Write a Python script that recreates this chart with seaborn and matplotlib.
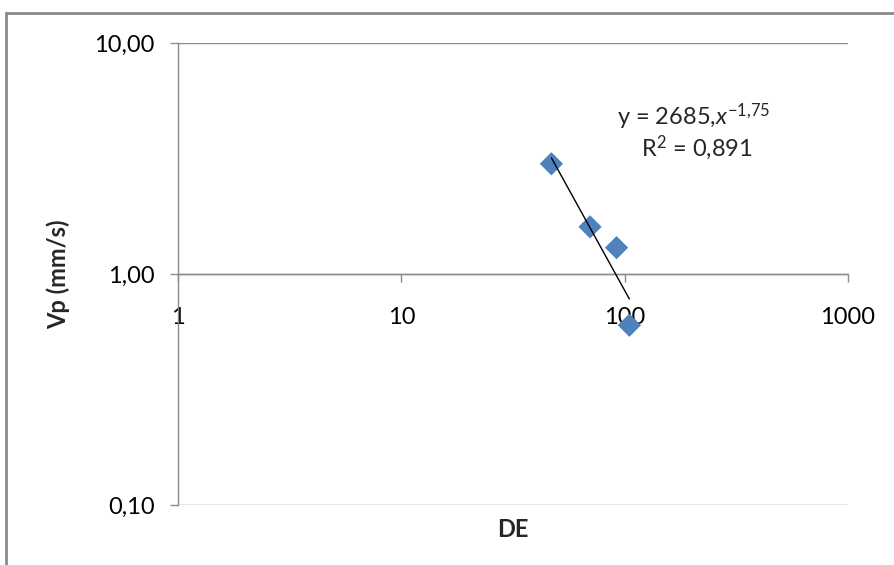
import numpy as np
import pandas as pd
import matplotlib
matplotlib.use("Agg")
import matplotlib.pyplot as plt
from matplotlib.patches import Rectangle
import seaborn as sns

# Measured values
de = [47, 70, 92, 105]
vp = [3.0, 1.6, 1.3, 0.6]

# Power trendline coefficients
coef_a = 2685
coef_b = -1.75
r2_text = "0,891"

x_ticks = [1, 10, 100, 1000]
x_tick_labels = ["1", "10", "100", "1000"]
y_ticks = [0.1, 1, 10]
y_tick_labels = ["0,10", "1,00", "10,00"]

sns.set_style("white")
plt.rcParams["font.family"] = ["Lato", "DejaVu Sans"]
plt.rcParams["mathtext.fontset"] = "custom"
plt.rcParams["mathtext.rm"] = "Lato"
plt.rcParams["mathtext.it"] = "Lato:italic"

df = pd.DataFrame({"DE": de, "Vp": vp})

fig = plt.figure(figsize=(8.94, 5.65), dpi=100)
ax = fig.add_axes([0.1991, 0.1062, 0.7494, 0.8177])

# Outer chart frame
fig.patches.append(Rectangle((6 / 894, -0.1), 1.2, (565 - 13) / 565 + 0.1,
                             transform=fig.transFigure, fill=False,
                             edgecolor="#8a8a8a", linewidth=2, zorder=0))

ax.set_xscale("log")
ax.set_yscale("log")
ax.set_xlim(1, 1000)
ax.set_ylim(0.1, 10)

grid_col = "#8c8c8c"
for yv in y_ticks:
    ax.axhline(yv, color=grid_col, linewidth=1, zorder=1)

sns.scatterplot(data=df, x="DE", y="Vp", ax=ax, marker="D", s=140,
                color="#4f81bd", edgecolor="none", zorder=3)

# Trendline over the data range
xt = np.array([min(de), max(de)], dtype=float)
yt = coef_a * xt ** coef_b
ax.plot(xt, yt, color="black", linewidth=1, zorder=4)

for side in ["top", "right"]:
    ax.spines[side].set_visible(False)
ax.spines["bottom"].set_position(("data", 1))
ax.spines["bottom"].set_color(grid_col)
ax.spines["left"].set_color(grid_col)
ax.spines["bottom"].set_linewidth(1)
ax.spines["left"].set_linewidth(1)

fs = 17
ax.set_xticks(x_ticks)
ax.set_xticklabels(x_tick_labels)
ax.set_yticks(y_ticks)
ax.set_yticklabels(y_tick_labels)
ax.minorticks_off()
ax.tick_params(axis="both", which="major", direction="out", length=6,
               width=1, color=grid_col, labelsize=fs, labelcolor="black",
               bottom=True, left=True)
ax.tick_params(axis="x", pad=18)
ax.tick_params(axis="y", pad=11)

ax.set_xlabel("DE", fontsize=fs, fontweight="bold")
ax.xaxis.set_label_coords(0.5, -0.028)
ax.set_ylabel("Vp (mm/s)", fontsize=fs, fontweight="bold")
ax.yaxis.set_label_coords(-0.161, 0.5)

ax.text(0.770, 0.84, "y = 2685,$x^{-1{,}75}$", transform=ax.transAxes,
        ha="center", va="center", fontsize=fs)
ax.text(0.775, 0.773, "R$^2$ = " + r2_text, transform=ax.transAxes,
        ha="center", va="center", fontsize=fs)

fig.savefig("out.png", dpi=100)
